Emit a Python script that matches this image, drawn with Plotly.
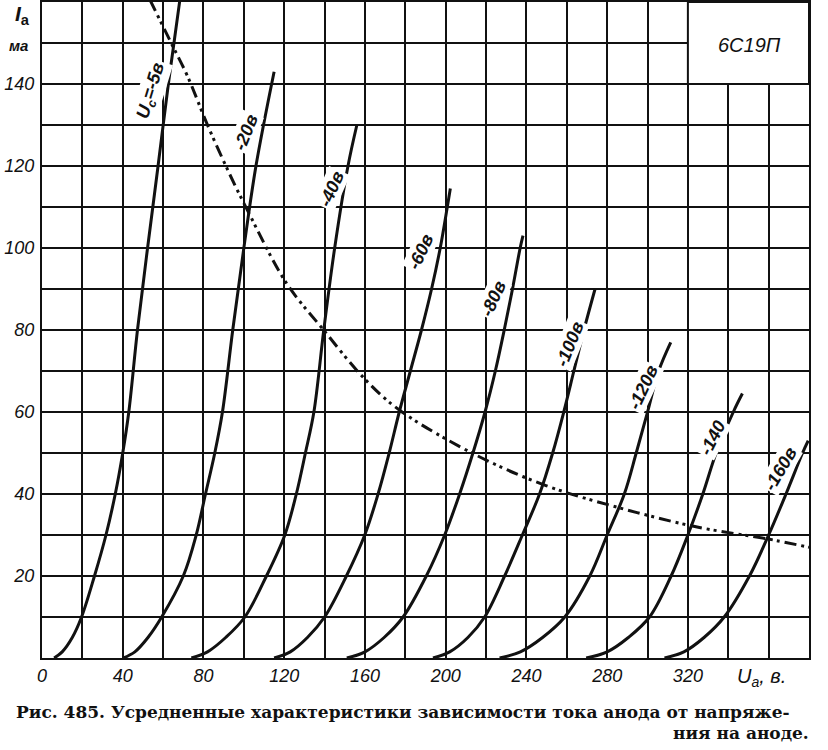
import plotly.graph_objects as go

# anode voltage (V) / anode current (mA)
ua_5 = [6, 10, 15, 19.6, 26, 31.7, 36.3, 40, 43, 47.3, 52.3, 57.5, 62.6, 68.3]
ia_5 = [0, 1.5, 5, 10, 20, 30, 40, 50, 60, 80, 100, 120, 140, 160.5]

ua_20 = [40.3, 46, 52.5, 59.3, 70, 76.4, 81, 85.6, 89.4, 94.5, 100, 106, 115]
ia_20 = [0, 1.5, 5, 10, 20, 30, 40, 50, 60, 80, 100, 120, 143]

ua_40 = [74, 82, 91, 100.5, 111.2, 120.3, 126, 130.5, 134.7, 139.6, 145, 151.6, 156]
ia_40 = [0, 1.5, 5, 10, 20, 30, 40, 50, 60, 80, 100, 120, 130]

ua_60 = [115, 123, 131.5, 140, 150.8, 159.9, 166.5, 172, 177, 182.5, 188, 193, 197.3, 200.8, 202.3]
ia_60 = [0, 1.5, 5, 10, 20, 30, 40, 50, 60, 70, 80, 90, 100, 110, 114.5]

ua_80 = [151, 160, 169.5, 178.9, 190.4, 199.5, 206.9, 213.5, 219.5, 224.6, 229, 233.1, 236.9, 238.3]
ia_80 = [0, 1.5, 5, 10, 20, 30, 40, 50, 60, 70, 80, 90, 100, 103]

ua_100 = [193.7, 202, 211, 219.3, 229.2, 238, 246.5, 253, 258.5, 263.5, 268.5, 274]
ia_100 = [0, 1.5, 5, 10, 20, 30, 40, 50, 60, 70, 80, 90]

ua_120 = [226.7, 237, 248, 259, 271.4, 280, 288.5, 294.4, 300, 305.5, 311.5]
ia_120 = [0, 1.5, 5, 10, 20, 30, 40, 50, 60, 70, 77]

ua_140 = [269.6, 280, 290.5, 301, 311.7, 320, 327.4, 334, 342.5, 347]
ia_140 = [0, 1.5, 5, 10, 20, 30, 40, 50, 60, 64.5]

ua_160 = [308.4, 318, 328, 338, 350.5, 360, 368.6, 376.8, 379.6]
ia_160 = [0, 1.5, 5, 10, 20, 30, 40, 50, 53]

# max anode dissipation line (dash-dot-dot)
ua_pmax = [53.5, 64, 72, 82, 93, 102, 121, 139.5, 160, 177, 215, 250, 287, 324, 360, 380]
ia_pmax = [160.5, 150, 142, 130, 118, 109, 91.5, 80, 68, 60.5, 49.5, 42, 36.5, 32, 29, 27]

# curve labels: text, x, y, angle
label_text = ["U<sub>с</sub>=-5в", "-20в", "-40в", "-60в", "-80в",
              "-100в", "-120в", "-140", "-160в"]
label_x = [54.2, 101, 143.4, 187.5, 223.9, 261.4, 298, 332.3, 365.8]
label_y = [138.5, 128.3, 114.4, 99.1, 87.7, 76.6, 66, 53.6, 46.1]
label_angle = [-73, -68, -66, -65, -66, -68, -65, -63, -60]

x_ticks = [0, 40, 80, 120, 160, 200, 240, 280, 320]
y_ticks = [20, 40, 60, 80, 100, 120, 140]

ink = "#111111"
tick_font = dict(family="Liberation Sans", size=18, color=ink, style="italic")

fig = go.Figure()

curves = [(ua_5, ia_5), (ua_20, ia_20), (ua_40, ia_40), (ua_60, ia_60),
          (ua_80, ia_80), (ua_100, ia_100), (ua_120, ia_120),
          (ua_140, ia_140), (ua_160, ia_160)]
for ua, ia in curves:
    fig.add_trace(go.Scatter(x=ua, y=ia, mode="lines",
                             line=dict(color=ink, width=3, shape="spline", smoothing=1.0),
                             hoverinfo="skip", showlegend=False))

fig.add_trace(go.Scatter(x=ua_pmax, y=ia_pmax, mode="lines",
                         line=dict(color=ink, width=3, shape="spline", smoothing=1.0,
                                   dash="12px,5px,3px,4px,3px,5px"),
                         hoverinfo="skip", showlegend=False))

for txt, x, y, ang in zip(label_text, label_x, label_y, label_angle):
    fig.add_annotation(x=x, y=y, text="<b>" + txt + "</b>", textangle=ang,
                       showarrow=False, bgcolor="white", borderpad=1,
                       font=dict(family="Liberation Sans", size=18, color=ink, style="italic"))

# tube type box in the upper right corner
fig.add_shape(type="rect", x0=320, x1=380, y0=140, y1=160, layer="above",
              fillcolor="white", line=dict(color=ink, width=2))
fig.add_annotation(x=350.5, y=149.5, text="6С19П", showarrow=False,
                   font=dict(family="Liberation Sans", size=20, color=ink, style="italic"))

# axis captions (paper coords, outside the plot area)
fig.add_annotation(xref="paper", yref="paper", x=-0.038, y=0.98,
                   xanchor="left", yanchor="middle",
                   text="<b><i>I</i><sub>a</sub></b>", showarrow=False,
                   font=dict(family="Liberation Sans", size=21, color=ink))
fig.add_annotation(xref="paper", yref="paper", x=-0.046, y=0.934,
                   xanchor="left", yanchor="middle",
                   text="<b>ма</b>", showarrow=False,
                   font=dict(family="Liberation Sans", size=15, color=ink, style="italic"))
fig.add_annotation(xref="paper", yref="paper", x=0.903, y=-0.029,
                   xanchor="left", yanchor="middle",
                   text="U<sub>a</sub>, в.", showarrow=False,
                   font=dict(family="Liberation Sans", size=20, color=ink, style="italic"))

# figure caption
fig.add_annotation(xref="paper", yref="paper", x=-0.0365, y=-0.0823,
                   xanchor="left", yanchor="middle", showarrow=False,
                   text="<b>Рис. 485. Усредненные характеристики зависимости тока анода от напряже-</b>",
                   font=dict(family="DejaVu Serif", size=17, color=ink))
fig.add_annotation(xref="paper", yref="paper", x=1.0026, y=-0.1143,
                   xanchor="right", yanchor="middle", showarrow=False,
                   text="<b>ния на аноде.</b>",
                   font=dict(family="DejaVu Serif", size=17, color=ink))

grid = dict(showgrid=True, gridcolor=ink, gridwidth=2)
fig.update_xaxes(range=[0, 380], tickvals=x_ticks, ticks="", tickfont=tick_font,
                 showline=True, linecolor=ink, linewidth=2, mirror=True, zeroline=False,
                 automargin=False,
                 minor=dict(dtick=20, tick0=0, showgrid=True, gridcolor=ink, gridwidth=2),
                 **grid)
fig.update_yaxes(range=[0, 160], tickvals=y_ticks, ticks="", tickfont=tick_font,
                 showline=True, linecolor=ink, linewidth=2, mirror=True, zeroline=False,
                 automargin=False, ticklabelstandoff=2,
                 minor=dict(dtick=10, tick0=0, showgrid=True, gridcolor=ink, gridwidth=2),
                 **grid)

fig.update_layout(width=828, height=750, margin=dict(l=42, r=19, t=2, b=92),
                  paper_bgcolor="white", plot_bgcolor="white")

# drop the browser's default page margin so the figure sits at the window corner
fig.write_html("out.html", config={"displayModeBar": False},
               post_script="document.body.style.margin='0';")
